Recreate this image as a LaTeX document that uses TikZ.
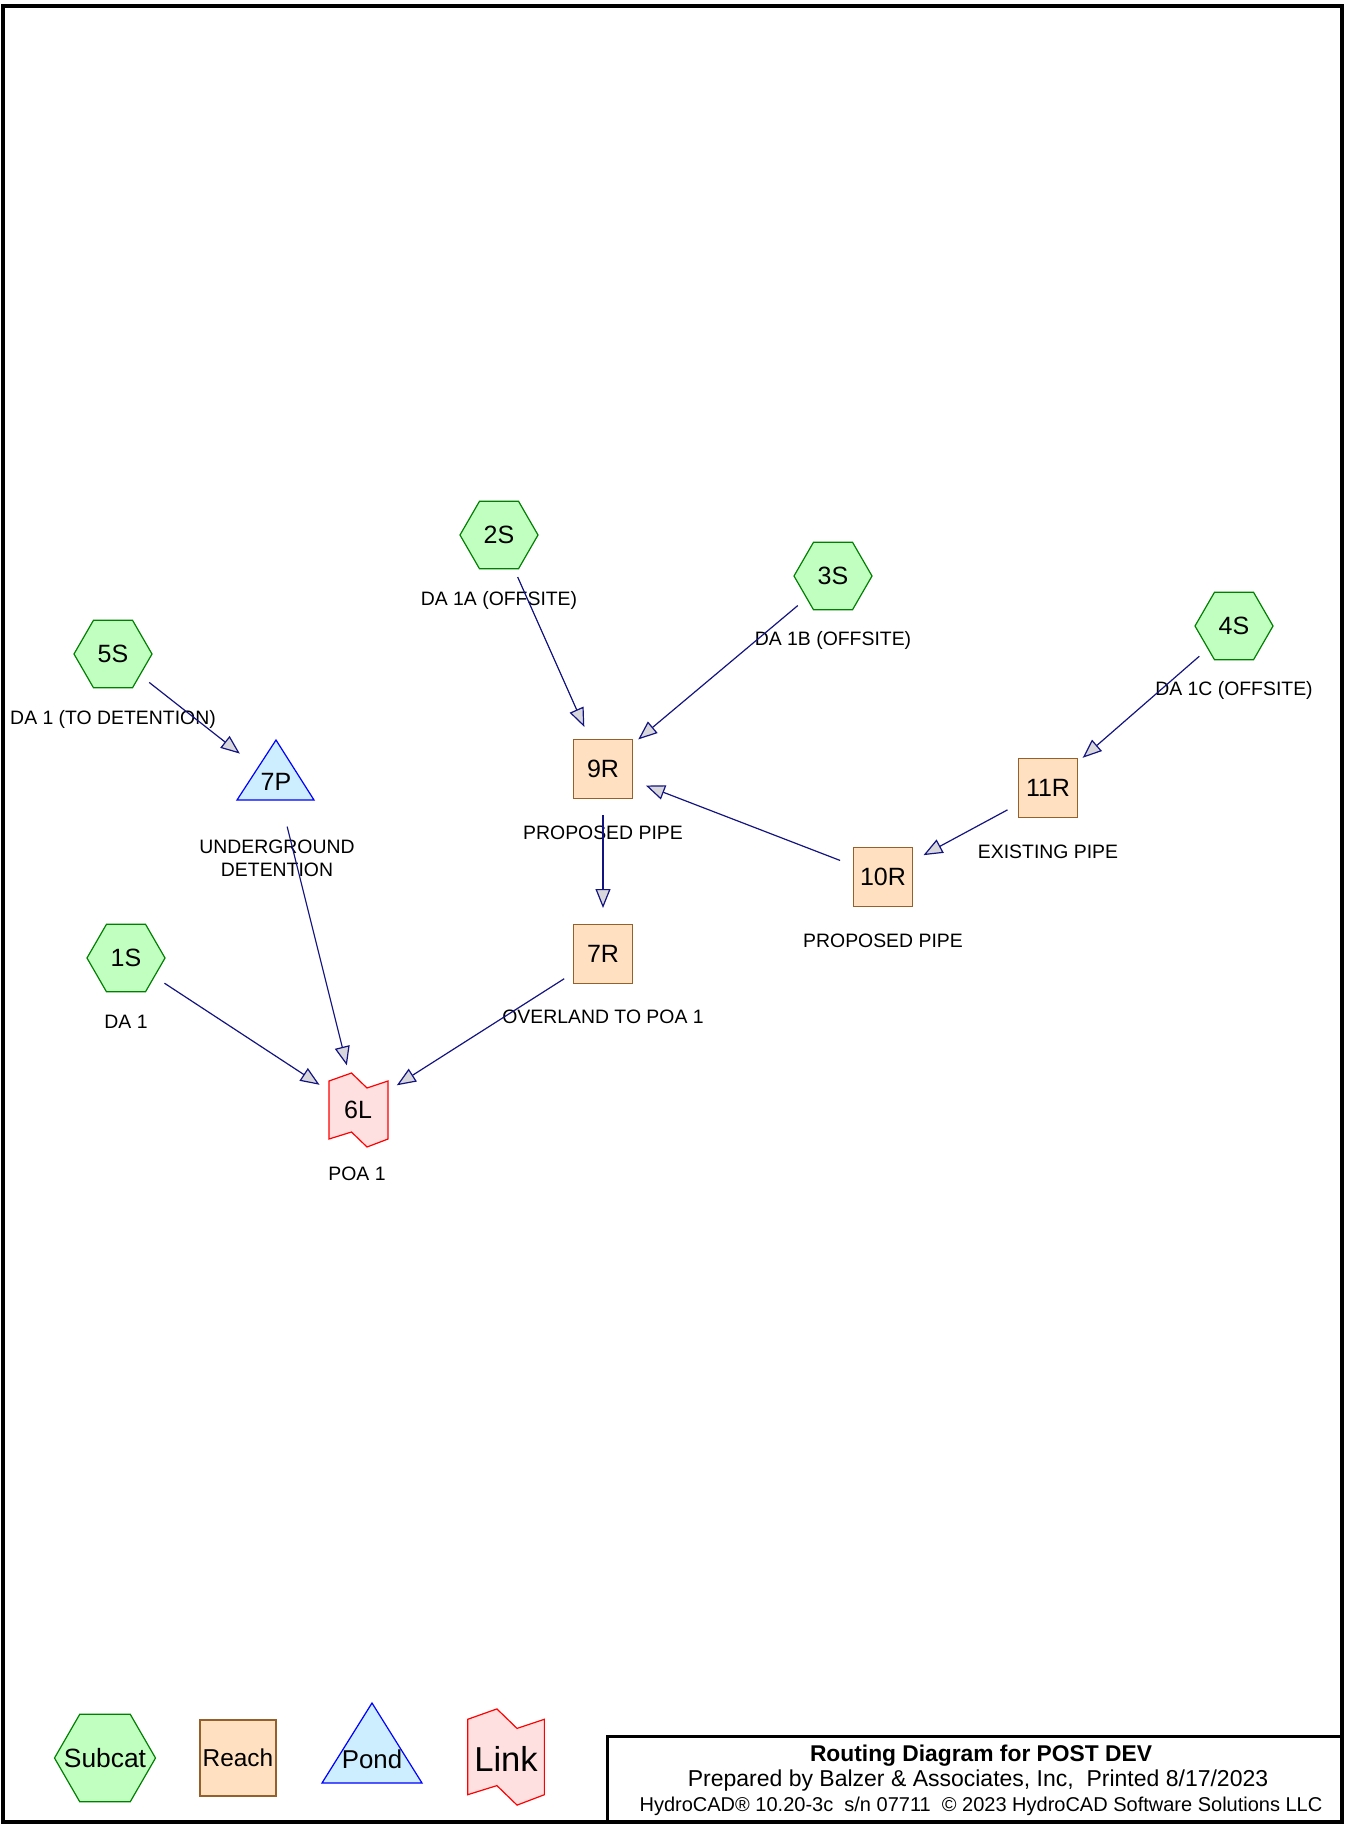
\documentclass[tikz,border=0pt]{standalone}
\usepackage{fontspec}
\setmainfont{Liberation Sans}
\usetikzlibrary{shapes.geometric,arrows.meta}
\definecolor{subfill}{HTML}{C0FFC0}
\definecolor{subline}{HTML}{008000}
\definecolor{reachfill}{HTML}{FFE0C0}
\definecolor{reachline}{HTML}{96602A}
\definecolor{pondfill}{HTML}{CCEEFF}
\definecolor{pondline}{HTML}{0000FF}
\definecolor{linkfill}{HTML}{FFE0E0}
\definecolor{linkline}{HTML}{FF0000}
\definecolor{flowline}{HTML}{141480}
\definecolor{tipfill}{HTML}{D8D8DC}
\tikzset{
  subcat/.style={regular polygon, regular polygon sides=6, draw=subline, fill=subfill,
    line width=0.6pt, inner sep=0pt, minimum size=39pt, font=\fontsize{12.5pt}{15pt}\selectfont},
  reach/.style={rectangle, draw=reachline, fill=reachfill, line width=0.6pt,
    inner sep=0pt, minimum size=29.5pt, font=\fontsize{12.5pt}{15pt}\selectfont},
  pondshape/.style={draw=pondline, fill=pondfill, line width=0.6pt},
  linkshape/.style={draw=linkline, fill=linkfill, line width=0.6pt, line join=miter},
  idtext/.style={inner sep=0pt, font=\fontsize{12.5pt}{15pt}\selectfont},
  desc/.style={inner sep=0pt, align=center, font=\fontsize{9.7pt}{11.5pt}\selectfont},
  flow/.style={draw=flowline, line width=0.6pt,
    -{Triangle[length=9.5pt,width=7.5pt,fill=tipfill]}, shorten <=23pt, shorten >=23pt},
}
\begin{document}
\begin{tikzpicture}[x=0.5pt,y=-0.5pt]
  \useasboundingbox (0,0) rectangle (1345,1825);
  % frame and title block
  \draw[line width=2pt] (3,6) rectangle (1342,1822);
  \draw[line width=1.5pt] (607,1822) |- (1342,1736);
  \node[inner sep=0pt, font=\bfseries\fontsize{11.4pt}{13pt}\selectfont] (title1) at (981,1756)
    {Routing Diagram for POST DEV};
  \node[inner sep=0pt, font=\fontsize{11.5pt}{13pt}\selectfont] (title2) at (978,1781)
    {Prepared by Balzer \& Associates, Inc,\ \ Printed 8/17/2023};
  \node[inner sep=0pt, font=\fontsize{10pt}{12pt}\selectfont] (title3) at (981,1806)
    {HydroCAD® 10.20-3c\ \ s/n 07711\ \ © 2023 HydroCAD Software Solutions LLC};

  % subcatchments
  \node[subcat] (n2S) at (499,535) {2S};
  \node[subcat] (n3S) at (833,576) {3S};
  \node[subcat] (n4S) at (1234,626) {4S};
  \node[subcat] (n5S) at (113,654) {5S};
  \node[subcat] (n1S) at (126,958) {1S};
  \node[desc] (d2S) at (499,600) {DA 1A (OFFSITE)};
  \node[desc] (d3S) at (833,640) {DA 1B (OFFSITE)};
  \node[desc] (d4S) at (1234,690) {DA 1C (OFFSITE)};
  \node[desc] (d5S) at (113,719) {DA 1 (TO DETENTION)};
  \node[desc] (d1S) at (126,1022) {DA 1};

  % reaches
  \node[reach] (n9R) at (603,769) {9R};
  \node[reach] (n7R) at (603,954) {7R};
  \node[reach] (n10R) at (883,877) {10R};
  \node[reach] (n11R) at (1048,788) {11R};
  \node[desc] (d9R) at (603,833) {PROPOSED PIPE};
  \node[desc] (d7R) at (603,1017) {OVERLAND TO POA 1};
  \node[desc] (d10R) at (883,941) {PROPOSED PIPE};
  \node[desc] (d11R) at (1048,852) {EXISTING PIPE};

  % pond
  \filldraw[pondshape] (276,740) -- (314,800) -- (237,800) -- cycle;
  \node[idtext] (n7P) at (276,782) {7P};
  \node[desc] (d7P) at (277,858) {UNDERGROUND\\DETENTION};

  % link
  \begin{scope}[shift={(358.5,1110)}]
    \filldraw[linkshape] (-29.5,-29) -- (-7,-37) -- (8.5,-22) -- (29.5,-29)
      -- (29.5,29) -- (8.5,37) -- (-7,22) -- (-29.5,29) -- cycle;
  \end{scope}
  \node[idtext] (n6L) at (358,1110) {6L};
  \node[desc] (d6L) at (357,1174) {POA 1};

  % routing
  \draw[flow] (n2S.center) -- (n9R.center);
  \draw[flow] (n3S.center) -- (n9R.center);
  \draw[flow] (n4S.center) -- (n11R.center);
  \draw[flow] (n11R.center) -- (n10R.center);
  \draw[flow] (n10R.center) -- (n9R.center);
  \draw[flow] (n9R.center) -- (n7R.center);
  \draw[flow] (n7R.center) -- (n6L.center);
  \draw[flow] (n5S.center) -- (n7P.center);
  \draw[flow] (n7P.center) -- (n6L.center);
  \draw[flow] (n1S.center) -- (n6L.center);

  % legend
  \node[subcat, minimum size=50.5pt,
    label={[inner sep=0pt, font=\fontsize{13.2pt}{15pt}\selectfont]center:Subcat}] (lgSub) at (105,1758) {};
  \node[reach, minimum size=38pt, font=\fontsize{12.2pt}{14pt}\selectfont] (lgReach) at (238,1758) {Reach};
  \filldraw[pondshape] (372,1703) -- (422,1783) -- (322,1783) -- cycle;
  \node[inner sep=0pt, font=\fontsize{12.9pt}{15pt}\selectfont] (lgPond) at (372,1759) {Pond};
  \begin{scope}[shift={(506,1757)}, scale=1.3]
    \filldraw[linkshape] (-29.5,-29) -- (-7,-37) -- (8.5,-22) -- (29.5,-29)
      -- (29.5,29) -- (8.5,37) -- (-7,22) -- (-29.5,29) -- cycle;
  \end{scope}
  \node[inner sep=0pt, font=\fontsize{17.3pt}{20pt}\selectfont] (lgLink) at (506,1759) {Link};
\end{tikzpicture}
\end{document}
